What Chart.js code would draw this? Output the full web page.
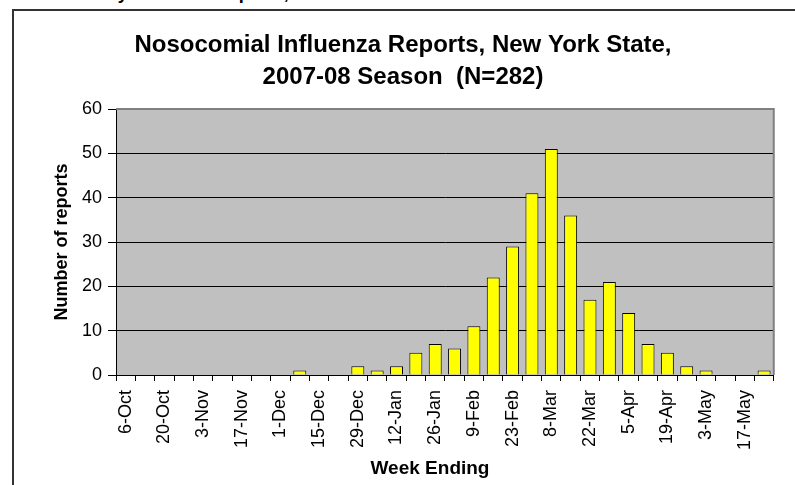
<!DOCTYPE html>
<html><head><meta charset="utf-8">
<script src="https://cdn.jsdelivr.net/npm/chart.js@4.4.0/dist/chart.umd.min.js"></script>
<style>
html,body{margin:0;padding:0;background:#fff;}
#wrap{position:relative;width:795px;height:485px;overflow:hidden;}
#frame{position:absolute;left:12px;top:9px;width:900px;height:600px;border:2px solid #333;}
#cut{position:absolute;left:66px;top:-17px;font:bold 18px "Liberation Sans",Arial,sans-serif;line-height:21px;white-space:nowrap;color:#000;}
canvas{position:absolute;left:0;top:0;}
</style></head><body>
<div id="wrap"><div id="cut">Weekly Influenza Reports, New York State</div><div id="frame"></div><canvas id="c" width="795" height="485"></canvas></div>
<script>
const weeks = ['6-Oct','13-Oct','20-Oct','27-Oct','3-Nov','10-Nov','17-Nov','24-Nov','1-Dec','8-Dec','15-Dec','22-Dec','29-Dec','5-Jan','12-Jan','19-Jan','26-Jan','2-Feb','9-Feb','16-Feb','23-Feb','1-Mar','8-Mar','15-Mar','22-Mar','29-Mar','5-Apr','12-Apr','19-Apr','26-Apr','3-May','10-May','17-May','24-May'];
const reports = [0,0,0,0,0,0,0,0,0,1,0,0,2,1,2,5,7,6,11,22,29,41,51,36,17,21,14,7,5,2,1,0,0,1];
const yTicks = [0,10,20,30,40,50,60];
const titleLines = ['Nosocomial Influenza Reports, New York State,','2007-08 Season  (N=282)'];
const yTitle = 'Number of reports';
const xTitle = 'Week Ending';

const FONT = '"Liberation Sans", Arial, sans-serif';

const bgPlugin = {
  id:'bg',
  beforeDraw(chart){
    const a = chart.chartArea, ctx = chart.ctx;
    ctx.save(); ctx.fillStyle = '#C0C0C0';
    ctx.fillRect(a.left, a.top, a.right-a.left, a.bottom-a.top);
    ctx.restore();
  },
  afterDatasetsDraw(chart){
    const a = chart.chartArea, ctx = chart.ctx;
    ctx.save(); ctx.strokeStyle = '#808080'; ctx.lineWidth = 2;
    ctx.beginPath(); ctx.moveTo(a.left, a.top); ctx.lineTo(a.right, a.top); ctx.lineTo(a.right, a.bottom); ctx.stroke();
    ctx.restore();
  }
};
const textPlugin = {
  id:'texts',
  afterDraw(chart){
    const ctx = chart.ctx;
    ctx.save();
    ctx.fillStyle = '#000';
    ctx.textAlign = 'center';
    ctx.textBaseline = 'alphabetic';
    ctx.font = 'bold 24px ' + FONT;
    ctx.fillText(titleLines[0], 403, 52);
    ctx.fillText(titleLines[1], 403, 84);
    ctx.font = 'bold 19px ' + FONT;
    ctx.fillText(xTitle, 430, 474);
    ctx.translate(62, 242);
    ctx.rotate(-Math.PI/2);
    ctx.font = 'bold 18px ' + FONT;
    ctx.textBaseline = 'middle';
    ctx.fillText(yTitle, 0, 0);
    ctx.restore();
  }
};

new Chart(document.getElementById('c'), {
  type:'bar',
  data:{ labels: weeks, datasets:[{ data: reports, backgroundColor:'#FFFF00', borderColor:'#000', borderWidth:1, categoryPercentage:1, barPercentage:0.67 }]},
  options:{
    responsive:false, animation:false, devicePixelRatio:1,
    layout:{ padding:{ top:109, right:21, left:0, bottom:0 } },
    plugins:{ legend:{display:false}, title:{display:false}, tooltip:{enabled:false} },
    scales:{
      x:{
        afterFit(s){ s.height = 110; },
        grid:{ offset:true, drawOnChartArea:false, tickLength:6, color:'#000' },
        border:{ display:true, color:'#000', width:1 },
        ticks:{ autoSkip:false, maxRotation:90, minRotation:90, padding:9, color:'#000',
          font:{ family:FONT, size:18 },
          callback(v,i){ return i%2===0 ? weeks[i] : ''; } }
      },
      y:{
        min:0, max:60,
        afterFit(s){ s.width = 116; },
        afterBuildTicks(s){ s.ticks = yTicks.map(v=>({value:v})); },
        grid:{ color(c){ return c.tick && c.tick.value===60 ? '#808080' : '#000'; }, tickColor:'#000', tickLength:8, lineWidth:1 },
        border:{ display:true, color:'#000', width:1 },
        ticks:{ padding:6, color:'#000', font:{ family:FONT, size:18 } }
      }
    }
  },
  plugins:[bgPlugin, textPlugin]
});
</script>
</body></html>
